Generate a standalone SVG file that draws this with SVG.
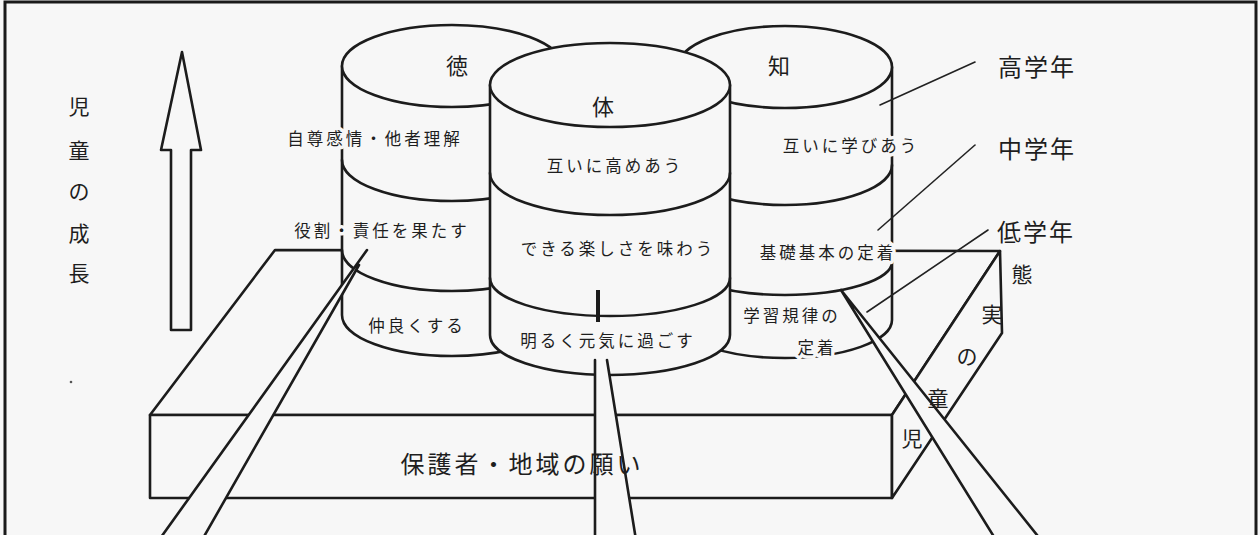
<svg xmlns="http://www.w3.org/2000/svg" width="1260" height="535" viewBox="0 0 1260 535">
<defs>
<style>
.ln{fill:none;stroke:#1c1c1c;stroke-width:2.6;stroke-linecap:round;stroke-linejoin:round}
.sh{fill:#f7f7f7;stroke:#1c1c1c;stroke-width:2.6;stroke-linejoin:round}
.bg{fill:#f7f7f7;stroke:none}
.ld{fill:none;stroke:#222;stroke-width:1.6;stroke-linecap:round}
text{font-family:"Noto Sans CJK JP","Noto Sans CJK SC",sans-serif;fill:#1e1e1e;dominant-baseline:central;text-anchor:middle}
.h{paint-order:stroke;stroke:#f7f7f7;stroke-width:7;stroke-linejoin:round}
.s{font-size:16.5px;letter-spacing:3px}
.k{font-size:22px}
.g{font-size:24px;letter-spacing:2px}
.v{font-size:21px}
</style>
</defs>
<rect x="0" y="0" width="1260" height="535" fill="#f7f7f7"/>
<rect x="5" y="2" width="1251" height="560" fill="none" stroke="#1a1a1a" stroke-width="3"/>

<g id="growth">
<polygon class="sh" points="182,52 201,150 191,150 191,330 171,330 171,150 161,150"/>
<text class="v" x="79" y="105">児</text>
<text class="v" x="79" y="149">童</text>
<text class="v" x="79" y="190">の</text>
<text class="v" x="79" y="232">成</text>
<text class="v" x="79" y="272">長</text>
<circle cx="71" cy="382" r="1.3" fill="#555"/>
</g>

<g id="slab">
<path class="sh" d="M150,415 L275,250 L1000,251 L892,415 Z"/>
<rect class="sh" x="150" y="415" width="742" height="83"/>
<path class="sh" d="M892,415 L1000,251 L1002,333 L892,498 Z"/>
</g>

<g id="toku">
<path class="bg" d="M342,66 L342,315 A110,41 0 0 0 562,315 L562,66 Z"/>
<path class="ln" d="M342,66 L342,315 A110,41 0 0 0 562,315 L562,66"/>
<path class="ln" d="M342,160 A110,41 0 0 0 562,160"/>
<path class="ln" d="M342,250 A110,41 0 0 0 562,250"/>
<ellipse class="sh" cx="452" cy="66" rx="110" ry="41"/>
<text class="k" x="457" y="64">徳</text>
<text class="s h" x="375" y="138">自尊感情・他者理解</text>
<text class="s h" x="382" y="230">役割・責任を果たす</text>
<text class="s h" x="417" y="325">仲良くする</text>
</g>

<g id="chi">
<path class="bg" d="M678,67 L678,320 A107,38 0 0 0 892,320 L892,67 Z"/>
<path class="ln" d="M678,67 L678,320 A107,38 0 0 0 892,320 L892,67"/>
<path class="ln" d="M678,165 A107,40 0 0 0 892,165"/>
<path class="ln" d="M678,262 A107,33 0 0 0 892,262"/>
<ellipse class="sh" cx="785" cy="67" rx="107" ry="41"/>
<text class="k" x="779" y="64">知</text>
<text class="s h" x="851" y="145">互いに学びあう</text>
<text class="s h" x="828" y="252">基礎基本の定着</text>
<text class="s h" x="792" y="315">学習規律の</text>
<text class="s h" x="817" y="347">定着</text>
</g>

<g id="tai">
<path class="bg" d="M490,85 L490,335 A120,40 0 0 0 730,335 L730,85 Z"/>
<path class="ln" d="M490,85 L490,335 A120,40 0 0 0 730,335 L730,85"/>
<path class="ln" d="M490,173 A120,42 0 0 0 730,173"/>
<path class="ln" d="M490,278 A120,38 0 0 0 730,278"/>
<ellipse class="sh" cx="610" cy="85" rx="120" ry="42"/>
<text class="k" x="603" y="105">体</text>
<text class="s h" x="615" y="165">互いに高めあう</text>
<text class="s h" x="618" y="248">できる楽しさを味わう</text>
<text class="s h" x="608" y="340">明るく元気に過ごす</text>
<line x1="598" y1="290" x2="598" y2="322" stroke="#1c1c1c" stroke-width="4"/>
</g>

<g id="beams">
<polygon class="bg" points="159,540 367,250 359,265 202,540"/>
<path class="ln" d="M159,540 L367,250 M202,540 L359,265"/>
<polygon class="bg" points="595,360 607,360 636,540 595,540"/>
<path class="ln" d="M595,360 L595,540 M607,360 L636,540"/>
<polygon class="bg" points="841,290 996,540 1041,540"/>
<path class="ln" d="M841,290 L996,540 M841,290 L1041,540"/>
</g>

<g id="slab-labels">
<text class="g" x="522" y="462" style="letter-spacing:3px">保護者・地域の願い</text>
<text class="v" x="1022" y="273">態</text>
<text class="v" x="992" y="313">実</text>
<text class="v" x="967" y="355">の</text>
<text class="v" x="938" y="397">童</text>
<text class="v" x="912" y="437">児</text>
</g>

<g id="connectors">
<line class="ld" x1="975" y1="62" x2="880" y2="105"/>
<line class="ld" x1="975" y1="145" x2="878" y2="230"/>
<line class="ld" x1="988" y1="230" x2="867" y2="312"/>
</g>

<g id="levels">
<text class="g" x="1037" y="65">高学年</text>
<text class="g" x="1037" y="147">中学年</text>
<text class="g" x="1036" y="230">低学年</text>
</g>
</svg>
